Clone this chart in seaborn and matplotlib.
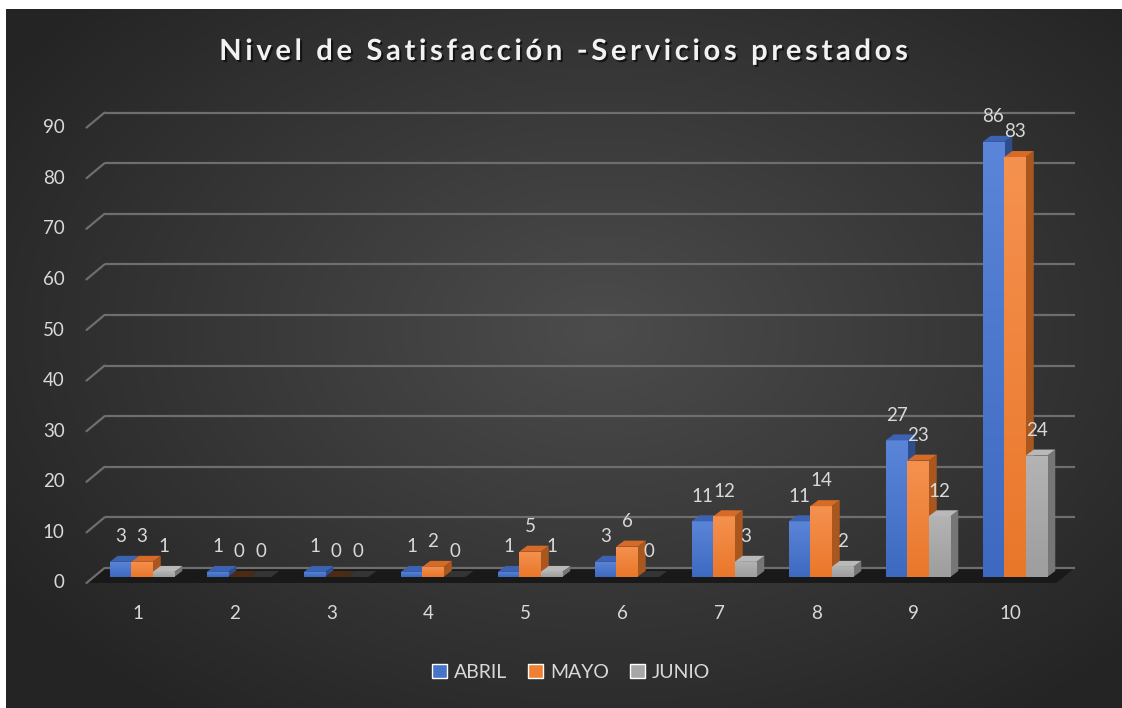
import numpy as np
import pandas as pd
import seaborn as sns
import matplotlib.pyplot as plt
from matplotlib.patches import Polygon, Patch
from matplotlib.colors import to_rgb
from matplotlib.transforms import offset_copy, ScaledTranslation
import matplotlib.patheffects as pe

niveles = ['1', '2', '3', '4', '5', '6', '7', '8', '9', '10']
abril = [3, 1, 1, 1, 1, 3, 11, 11, 27, 86]
mayo = [3, 0, 0, 2, 5, 6, 12, 14, 23, 83]
junio = [1, 0, 0, 0, 1, 0, 3, 2, 12, 24]
meses = ['ABRIL', 'MAYO', 'JUNIO']
y_ticks = list(range(0, 100, 10))
titulo = 'Nivel de Satisfacción -Servicios prestados'

df = pd.DataFrame({
    'nivel': niveles * 3,
    'valor': abril + mayo + junio,
    'mes': np.repeat(meses, len(niveles)),
})

# front / side / top colours per serie
front = ['#4674c9', '#ef7f33', '#a7a7a7']
front_hi = ['#5a85d8', '#f5914f', '#b4b4b4']
front_lo = ['#3d69c0', '#e9772a', '#9d9d9d']
side = ['#2e4d8c', '#a9561f', '#767676']
top = ['#3c63b2', '#d56b26', '#b9b9b9']
flat = ['#2f4f93', '#4d2a14', '#343434']
txt = '#d9d9d9'

sns.set_theme(style='white')
plt.rcParams['font.family'] = ['Lato', 'DejaVu Sans']

W, H = 1122, 708
fig = plt.figure(figsize=(W / 100, H / 100), dpi=100)
fig.patch.set_facecolor('white')

# radial background of the chart area
bg = fig.add_axes([0, 0, 1, 1])
bg.set_axis_off()
yy, xx = np.mgrid[0:H, 0:W]
r = np.sqrt(((xx - 600) / 720.0) ** 2 + ((yy - 330) / 480.0) ** 2)
r = np.clip(r, 0, 1)
c = 0x4c / 255 + (0x24 / 255 - 0x4c / 255) * r
img = np.dstack([c, c, c])
img[:9, :, :] = 1.0
img[:, :6, :] = 1.0
bg.imshow(img, extent=[0, 1, 0, 1], aspect='auto', interpolation='bilinear')
bg.set_xlim(0, 1)
bg.set_ylim(0, 1)

ax = fig.add_axes([93.5 / W, 131 / H, 970 / W, 455.4 / H])
ax.set_facecolor('none')
sns.barplot(data=df, x='nivel', y='valor', hue='mes', palette=front,
            width=0.665, saturation=1, legend=False, ax=ax, zorder=3)
bars = list(ax.patches)
ax.set_xlim(-0.5, 9.5)
ax.set_ylim(0, 90)
for s in ax.spines.values():
    s.set_visible(False)

px_x = 970 / 10.0
px_y = 455.4 / 90.0
dx, dy = 8 / px_x, 6 / px_y

back = offset_copy(ax.transData, fig=fig, x=11, y=9, units='dots')
frnt = offset_copy(ax.transData, fig=fig, x=-7, y=-6, units='dots')
inv = ax.transData.inverted()

# floor
fx0, fy0 = frnt.transform((-0.5, 0))
fx1, _ = frnt.transform((9.5, 0))
bx0, by0 = back.transform((-0.5, 0))
bx1, _ = back.transform((9.5, 0))
pts = inv.transform([(fx0, fy0), (fx1, fy0), (bx1, by0), (bx0, by0)])
ax.add_patch(Polygon(pts, closed=True, facecolor='#191919', edgecolor='none',
                     zorder=1, clip_on=False))

# back wall gridlines + left diagonals
for v in y_ticks:
    ax.plot([-0.5, 9.5], [v, v], transform=back, color='#6e6e6e', lw=1.6,
            clip_on=False, zorder=1.5, solid_capstyle='butt')
    p0 = frnt.transform((-0.5, v))
    p1 = back.transform((-0.5, v))
    q = inv.transform([p0, p1])
    ax.plot(q[:, 0], q[:, 1], color='#6e6e6e', lw=1.6, clip_on=False, zorder=1.5)
    ax.text(-0.5, v, str(v), transform=offset_copy(frnt, fig=fig, x=-22, y=0, units='dots'),
            ha='right', va='center', color=txt, fontsize=13.5)

# 3d faces, light gradient on the fronts and data labels
n = len(niveles)
for i, rect in enumerate(bars):
    k = i // n
    x0, w, h = rect.get_x(), rect.get_width(), rect.get_height()
    zo = 3 + k
    rect.set_zorder(zo + 0.5)
    rect.set_edgecolor('none')
    if h > 0:
        ax.add_patch(Polygon([(x0 + w, 0), (x0 + w + dx, dy), (x0 + w + dx, h + dy), (x0 + w, h)],
                             closed=True, facecolor=side[k], edgecolor='none', zorder=zo))
        t = np.linspace(1, 0, 64)[:, None, None]
        grad = np.array(to_rgb(front_hi[k])) * t + np.array(to_rgb(front_lo[k])) * (1 - t)
        grad = np.repeat(grad, 2, axis=1)
        im = ax.imshow(grad, extent=[x0, x0 + w, 0, h], aspect='auto', zorder=zo + 0.55,
                       interpolation='bilinear')
        im.set_clip_path(rect)
        tc = top[k]
    else:
        tc = flat[k]
    ax.add_patch(Polygon([(x0, h), (x0 + dx, h + dy), (x0 + w + dx, h + dy), (x0 + w, h)],
                         closed=True, facecolor=tc, edgecolor='none', zorder=zo + 0.6))
    ax.annotate(f'{h:.0f}', (x0 + w / 2, h), xytext=(0, 12), textcoords='offset points',
                ha='center', va='bottom', color=txt, fontsize=13.5, zorder=10,
                annotation_clip=False)
ax.set_xlim(-0.5, 9.5)
ax.set_ylim(0, 90)

ax.set_yticks([])
ax.set_xlabel('')
ax.set_ylabel('')
ax.set_xticks(range(n))
ax.set_xticklabels(niveles, color=txt, fontsize=13.5)
ax.tick_params(axis='x', length=0, pad=20)
shift = ScaledTranslation(-4.5 / 100, 0, fig.dpi_scale_trans)
for lab in ax.get_xticklabels():
    lab.set_transform(lab.get_transform() + shift)

handles = [Patch(facecolor=front[k], label=meses[k]) for k in range(3)]
fig.legend(handles=handles, loc='center', bbox_to_anchor=(0.509, 1 - 672 / H), ncol=3,
           frameon=False, handlelength=0.75, handleheight=0.75, handletextpad=0.35,
           columnspacing=1.1, fontsize=14, labelcolor=txt)

# title with the wide letter spacing of the original (hair spaces)
fig.text(0.504, 1 - 52 / H, '\u200a\u200a'.join(titulo), ha='center',
         va='center', color='#f2f2f2', fontsize=21, fontweight='bold',
         path_effects=[pe.SimplePatchShadow(offset=(1.5, -1.5), shadow_rgbFace='black', alpha=0.6),
                       pe.Normal()])

fig.savefig('out.png', dpi=100, facecolor=fig.get_facecolor())
